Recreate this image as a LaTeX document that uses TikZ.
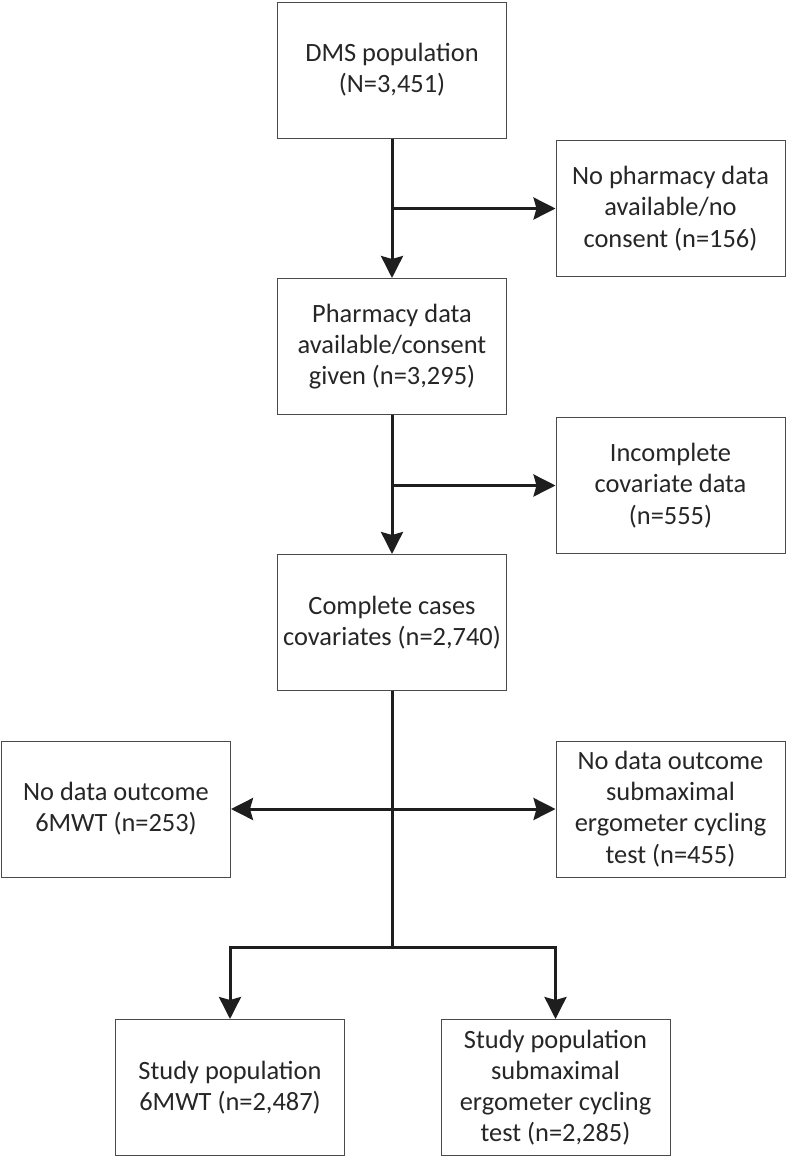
\documentclass[tikz,border=0pt]{standalone}
\usepackage{fontspec}
\setmainfont{Carlito}
\usepackage{xcolor}
\usetikzlibrary{arrows.meta}
\definecolor{boxline}{HTML}{4A4A4A}
\definecolor{flowline}{HTML}{1E1E1E}
\tikzstyle{stage}=[draw=boxline, line width=0.5pt, rectangle, minimum width=114.5pt, minimum height=68pt, align=center, inner sep=2pt, font=\fontsize{13.2}{15.6}\selectfont, text=black!85]
\tikzstyle{flow}=[draw=flowline, line width=1.5pt, -{Stealth[length=11pt, width=11pt, inset=1.5pt]}]
\tikzstyle{trunk}=[draw=flowline, line width=1.5pt]

\begin{document}
\begin{tikzpicture}[x=0.5pt, y=-0.5pt]
        \useasboundingbox (0,0) rectangle (787,1157);
        \node[stage] (dms) at (392, 70) {DMS population\\(N=3,451)};
        \node[stage] (nopharm) at (670.5, 208.5) {No pharmacy data\\available/no\\consent (n=156)};
        \node[stage] (pharm) at (392, 346.5) {Pharmacy data\\available/consent\\given (n=3,295)};
        \node[stage] (incompl) at (670.5, 485.5) {Incomplete\\covariate data\\(n=555)};
        \node[stage] (complete) at (392, 622.5) {Complete cases\\covariates (n=2,740)};
        \node[stage] (nod6mwt) at (116, 809) {No data outcome\\6MWT (n=253)};
        \node[stage] (nodcyc) at (670.5, 809) {No data outcome\\submaximal\\ergometer cycling\\test (n=455)};
        \node[stage] (study6mwt) at (230, 1087.5) {Study population\\6MWT (n=2,487)};
        \node[stage] (studycyc) at (555.5, 1087.5) {Study population\\submaximal\\ergometer cycling\\test (n=2,285)};
        \coordinate (split) at (392, 947);

        \draw[flow] (dms) -- (pharm);
        \draw[flow] (dms.south |- nopharm.west) -- (nopharm.west);
        \draw[flow] (pharm) -- (complete);
        \draw[flow] (pharm.south |- incompl.west) -- (incompl.west);
        \draw[trunk] (complete.south) -- (split);
        \draw[flow] (complete.south |- nod6mwt.east) -- (nod6mwt.east);
        \draw[flow] (complete.south |- nodcyc.west) -- (nodcyc.west);
        \draw[flow] (split) -| (study6mwt.north);
        \draw[flow] (split) -| (studycyc.north);
    \end{tikzpicture}
\end{document}
